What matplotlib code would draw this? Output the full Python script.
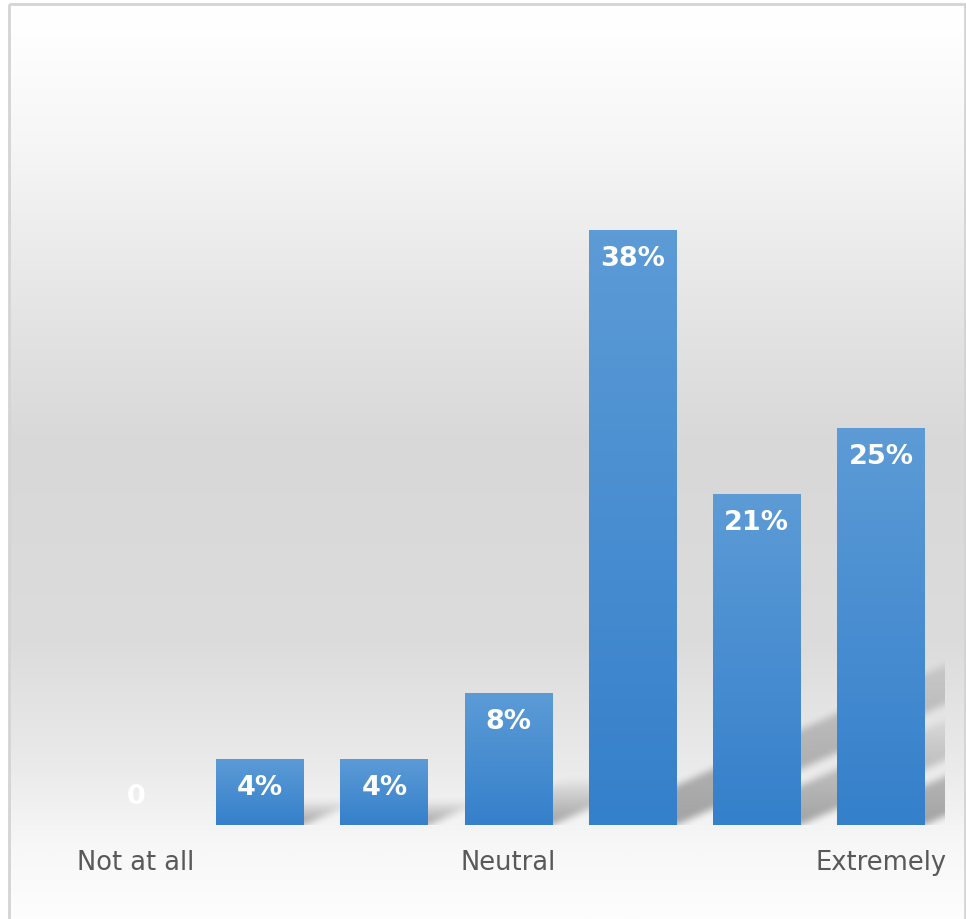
"""
plot.py - survey response bar chart with gradient styling
"""

import numpy as np
import matplotlib
matplotlib.use("Agg")
from matplotlib import pyplot as plt
from matplotlib.colors import LinearSegmentedColormap
from matplotlib.patches import Rectangle

# data: 24 respondents, share per answer (percent)
categories = ['1', '2', '3', '4', '5', '6', '7']
values = [0, 100 / 24, 100 / 24, 200 / 24, 900 / 24, 500 / 24, 600 / 24]
tick_labels = ['Not at all', '', '', 'Neutral', '', '', 'Extremely']

W, H = 966, 920
fig = plt.figure(figsize=(W / 100, H / 100), dpi=100)

# background: white frame with a soft grey vertical gradient inside
bg = fig.add_axes([0, 0, 1, 1], zorder=0)
bg.set_xlim(0, W)
bg.set_ylim(H, 0)
bg.axis('off')
stops = [(0, 'white'), (0.03, '#fefefe'), (0.15, '#f6f6f6'), (0.33, '#e5e5e5'),
         (0.48, '#d8d8d8'), (0.70, '#dcdcdc'), (0.84, '#ebebeb'),
         (0.92, '#f7f7f7'), (1.0, '#fdfdfd')]
bg_cmap = LinearSegmentedColormap.from_list('bg', stops)
grad = np.linspace(0, 1, 400).reshape(-1, 1)
bg.imshow(grad, cmap=bg_cmap, extent=(10, 966, 920, 6), aspect='auto',
          interpolation='bilinear', zorder=0)
bg.add_patch(Rectangle((9, 5), 955.5, 930, fill=False, edgecolor='#d4d4d4', lw=2))

# plot area
px_left, px_right, px_base, px_top = 74, 943, 826, 191
ax = fig.add_axes([px_left / W, (H - px_base) / H, (px_right - px_left) / W,
                   (px_base - px_top) / H], zorder=1)
ax.patch.set_alpha(0)
ymax = 40
ax.set_xlim(-0.5, len(values) - 0.5)
ax.set_ylim(0, ymax)
for s in ax.spines.values():
    s.set_visible(False)
ax.set_yticks([])

x = np.arange(len(values))
bar_w = 88 / 124.3

bars = ax.bar(x, values, width=bar_w, color='#4a8fd3', zorder=2)

# gradient fill for each bar
bar_cmap = LinearSegmentedColormap.from_list('bar', ['#3580cb', '#5c9bd6'])
for b in bars:
    h = b.get_height()
    if h <= 0:
        continue
    im = ax.imshow(np.linspace(0, 1, 100).reshape(-1, 1), cmap=bar_cmap,
                   extent=(b.get_x(), b.get_x() + b.get_width(), 0, h),
                   origin='lower', aspect='auto', zorder=3, interpolation='bilinear')
    im.set_clip_path(b)
ax.set_aspect('auto')
ax.set_xlim(-0.5, len(values) - 0.5)
ax.set_ylim(0, ymax)

# soft perspective shadows, rasterised in pixel space behind the bars
slope = 0.45
yy, xx = np.mgrid[0:H, 0:W] + 0.5
shadow = np.zeros((H, W))
for b in bars:
    if b.get_height() <= 0:
        continue
    (x0, y0), (x1, y1) = ax.transData.transform(
        [(b.get_x(), 0), (b.get_x() + b.get_width(), b.get_height())])
    base = H - y0
    sh = max(0.35 * (y1 - y0), 24)
    up = base - yy
    m = (up >= 0) & (up <= sh) & (xx >= x0 + up / slope) & (xx <= x1 + up / slope)
    a = np.where(m, 0.45 * (1 - up / sh) ** 0.8, 0)
    shadow = 1 - (1 - shadow) * (1 - a)


def box_blur(img, r):
    k = 2 * r + 1
    p = np.pad(img, r, mode='edge')
    c = np.cumsum(p, axis=0)
    c = np.vstack([np.zeros((1, c.shape[1])), c])
    p = (c[k:] - c[:-k]) / k
    c = np.cumsum(p, axis=1)
    c = np.hstack([np.zeros((c.shape[0], 1)), c])
    return (c[:, k:] - c[:, :-k]) / k


shadow = box_blur(box_blur(shadow, 4), 3)
shadow[yy > px_base] = 0
shadow[xx > px_right + 2] = 0
rgba = np.zeros((H, W, 4))
rgba[..., :3] = 0.25
rgba[..., 3] = shadow
bg.imshow(rgba, extent=(0, W, H, 0), aspect='auto', zorder=1, interpolation='nearest')
bg.set_xlim(0, W)
bg.set_ylim(H, 0)

# data labels
sy = (px_base - px_top) / ymax
for xi, v in zip(x, values):
    lab = '0' if v == 0 else f'{v:.0f}%'
    y = 29 / sy if v == 0 else v - 28 / sy
    ax.text(xi, y, lab, ha='center', va='center', color='white',
            fontsize=19.5, fontweight='bold', family='DejaVu Sans', zorder=4)

ax.set_xticks(x)
ax.set_xticklabels(tick_labels, fontsize=18.5, color='#595959', family='DejaVu Sans')
ax.tick_params(axis='x', length=0, pad=17)

fig.savefig('out.png', dpi=100)
